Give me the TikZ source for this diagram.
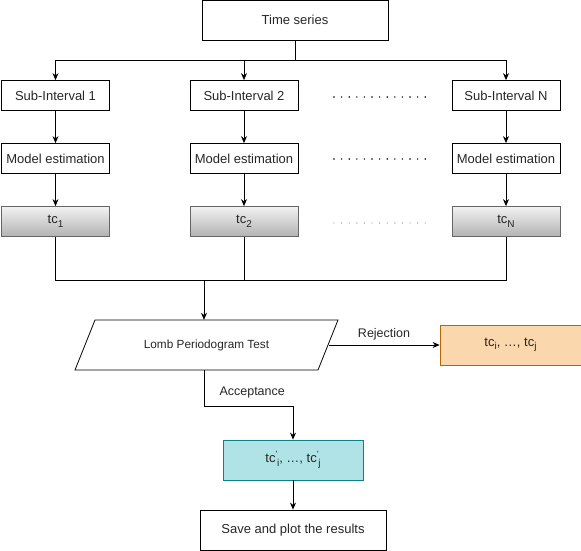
\documentclass[tikz,border=0pt]{standalone}
\usepackage{fontspec}
\setmainfont{Liberation Sans}
\usetikzlibrary{arrows.meta}
\definecolor{orfill}{HTML}{FAD7AC}
\definecolor{ordraw}{HTML}{B46504}
\definecolor{tefill}{HTML}{B0E3E6}
\definecolor{tedraw}{HTML}{0E8088}
\definecolor{grdraw}{HTML}{666666}
\newcommand{\mysub}[1]{\raisebox{-3.5pt}{\fontsize{10}{10}\selectfont #1}}
\newcommand{\mysup}{\raisebox{5pt}{\fontsize{9}{9}\selectfont '}}
\begin{document}
\begin{tikzpicture}[x=1pt,y=-1pt,
  every node/.style={font=\fontsize{13}{15}\selectfont, text=black!85},
  box/.style={draw=black, line width=0.8pt, rectangle, minimum width=108pt, minimum height=30pt, inner sep=0pt},
  tcbox/.style={draw=grdraw, line width=0.8pt, rectangle, minimum width=108pt, minimum height=30pt, inner sep=0pt, top color=black!5, bottom color=black!30},
  conn/.style={line width=0.8pt, -{Stealth[length=7pt,width=6pt]}},
  line/.style={line width=0.8pt},
  dots/.style={line width=1.6pt, line cap=round, dash pattern=on 0pt off 7.6pt},
  lbl/.style={font=\fontsize{12.5}{14}\selectfont, text=black!85}
]
\useasboundingbox (0,0) rectangle (581,551);

\node[box, minimum width=186pt, minimum height=40pt] (ts) at (295,20) {Time series};

\node[box] (s1) at (55.5,95.5) {Sub-Interval 1};
\node[box] (s2) at (244,95.5) {Sub-Interval 2};
\node[box] (sn) at (506,95.5) {Sub-Interval N};

\node[box] (m1) at (55.5,158.5) {Model estimation};
\node[box] (m2) at (244,158.5) {Model estimation};
\node[box] (mn) at (506,158.5) {Model estimation};

\node[tcbox] (t1) at (55.5,221.5) {tc\mysub{1}};
\node[tcbox] (t2) at (244,221.5) {tc\mysub{2}};
\node[tcbox] (tn) at (506,221.5) {tc\mysub{N}};

% dotted separators
\coordinate (d1a) at (334,97); \coordinate (d1b) at (430,97);
\coordinate (d2a) at (334,159); \coordinate (d2b) at (430,159);
\coordinate (d3a) at (334,223); \coordinate (d3b) at (430,223);
\draw[dots] (d1a) -- (d1b);
\draw[dots] (d2a) -- (d2b);
\draw[dots, black!40, line width=1.4pt] (d3a) -- (d3b);

% branch from time series
\coordinate (bj) at (295,60);
\draw[line] (ts.south) -- (bj);
\draw[conn] (bj) -| (s1.north);
\draw[conn] (bj) -| (sn.north);
\draw[conn] (s2.north |- bj) -- (s2.north);

\draw[conn] (s1) -- (m1);
\draw[conn] (s2) -- (m2);
\draw[conn] (sn) -- (mn);
\draw[conn] (m1) -- (t1);
\draw[conn] (m2) -- (t2);
\draw[conn] (mn) -- (tn);

% merge
\coordinate (mj) at (204,280);
\draw[line] (t1.south) |- (mj);
\draw[line] (tn.south) |- (mj);
\draw[line] (t2.south) -- (t2.south |- mj);

% Lomb parallelogram
\node[minimum width=243pt, minimum height=50pt, inner sep=0pt, font=\fontsize{11.8}{13}\selectfont] (lomb) at (206.5,345) {Lomb Periodogram Test};
\draw[line] (95,320) -- (338,320) -- (318,370) -- (75,370) -- cycle;
\draw[conn] (mj) -- (mj |- lomb.north);

% rejection
\node[draw=ordraw, fill=orfill, line width=0.8pt, minimum width=141pt, minimum height=40pt, inner sep=0pt] (rej) at (510.5,345) {tc\mysub{i}, \ldots, tc\mysub{j}};
\coordinate (rs) at (328.5,345);
\draw[conn] (rs) -- (rej.west) node[midway, above=1pt, lbl] {Rejection};

% acceptance
\node[draw=tedraw, fill=tefill, line width=0.8pt, minimum width=140pt, minimum height=40pt, inner sep=0pt] (acc) at (293,460) {tc\mysup\kern-0.5pt\mysub{i}, \ldots, tc\mysup\kern-0.5pt\mysub{j}};
\coordinate (ab) at (204,406);
\draw[line] (lomb.south -| ab) -- (ab);
\draw[conn] (ab) -| (acc.north);
\node[lbl, anchor=south west] (acclbl) at (216,402) {Acceptance};

% save
\node[box, minimum width=186pt, minimum height=40pt] (save) at (293,530) {Save and plot the results};
\draw[conn] (acc) -- (save);
\end{tikzpicture}
\end{document}
